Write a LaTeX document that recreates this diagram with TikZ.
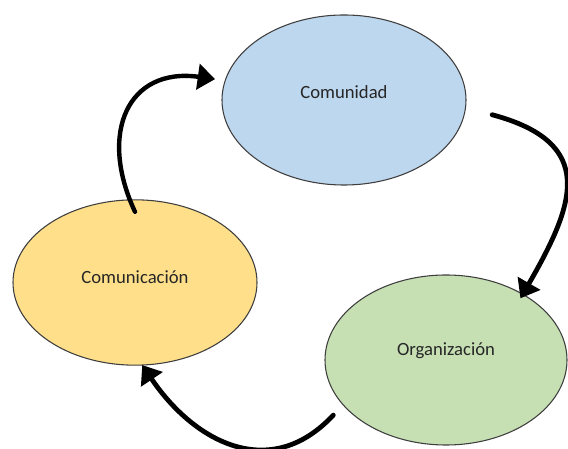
\documentclass[tikz,border=0pt]{standalone}
\usepackage{fontspec}
\setmainfont{Carlito}
\usetikzlibrary{shapes.geometric,arrows.meta}
\definecolor{cblue}{HTML}{BDD7EE}
\definecolor{cyellow}{HTML}{FFDF8A}
\definecolor{cgreen}{HTML}{C6E0B4}
\definecolor{rimgray}{HTML}{3E3E3E}
\definecolor{textgray}{HTML}{262626}

\begin{document}
\begin{tikzpicture}[x=0.75pt,y=0.75pt,
    bubble/.style={ellipse,draw=rimgray,line width=0.8pt,inner sep=0pt,outer sep=0pt},
    txt/.style={font=\fontsize{14}{16}\selectfont,text=textgray},
    cycle arrow/.style={line width=3.3pt,line cap=round,-{Triangle[length=13pt,width=19pt]}}]
        \useasboundingbox (0,0) rectangle (568,449);

        \node[bubble,fill=cblue,minimum width=183pt,minimum height=127.5pt,
            label={[txt,yshift=6pt]center:Comunidad}] (comunidad) at (344,349) {};
        \node[bubble,fill=cyellow,minimum width=183pt,minimum height=124pt,
            label={[txt,yshift=4pt]center:Comunicación}] (comunicacion) at (135,166.5) {};
        \node[bubble,fill=cgreen,minimum width=181.5pt,minimum height=127.5pt,
            label={[txt,yshift=7pt]center:Organización}] (organizacion) at (446,89) {};

        \draw[cycle arrow] ([yshift=-9pt]comunicacion.north)
            to[out=115,in=172,looseness=1.45] ([xshift=-8pt]comunidad.170);
        \draw[cycle arrow,line width=3.6pt] ([xshift=21pt]comunidad.-7)
            to[out=-15,in=60,looseness=1.5] ([yshift=-4pt]organizacion.42);
        \draw[cycle arrow,line width=3.6pt] ([shift={(-10pt,-5pt)}]organizacion.206)
            to[out=227,in=-56,looseness=1.2] (comunicacion.-85);
    \end{tikzpicture}
\end{document}
